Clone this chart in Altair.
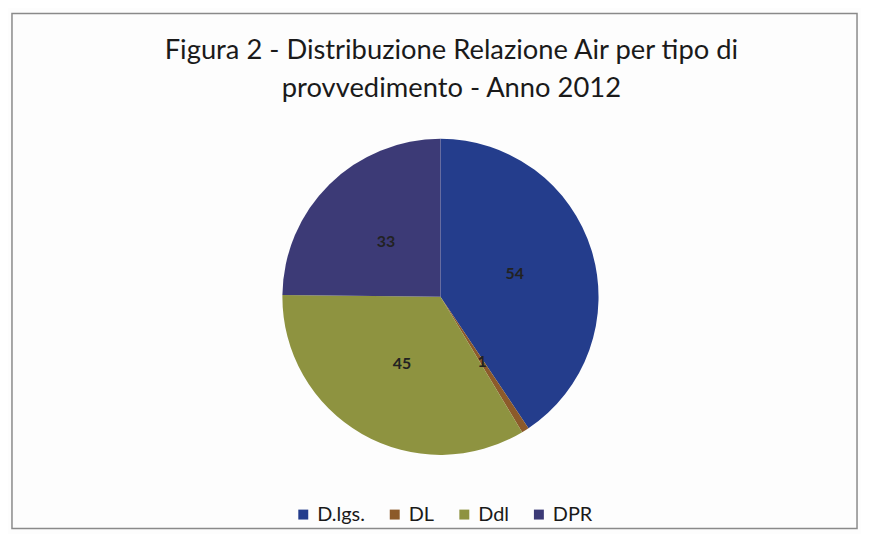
import altair as alt
import pandas as pd

categories = ["D.lgs.", "DL", "Ddl", "DPR"]
values = [54, 1, 45, 33]
colors = ["#243d8c", "#8c5a2a", "#8e9340", "#3c3a76"]
title_lines = ["Figura 2 - Distribuzione Relazione Air per tipo di", "provvedimento - Anno 2012"]

df = pd.DataFrame({"tipo": categories, "n": values, "ord": list(range(len(categories)))})

W, H = 850, 518
CX, CY = 431, 285
R = 159

color_scale = alt.Scale(domain=categories, range=colors)

base = alt.Chart(df).encode(
    theta=alt.Theta("n:Q", stack=True),
    order=alt.Order("ord:Q"),
)

pie = base.mark_arc(stroke=None).encode(
    x=alt.value(CX), y=alt.value(CY),
    radius=alt.value(R),
    color=alt.Color("tipo:N", scale=color_scale, sort=categories,
                    legend=alt.Legend(title=None, orient="none", legendX=283, legendY=H - 24,
                                      direction="horizontal", symbolType="square", symbolSize=100,
                                      labelFontSize=20, labelFont="Lato", labelColor="#1a1a1a",
                                      columnPadding=20, symbolStrokeWidth=0)),
)

labels = base.mark_text(font="Lato", fontSize=16, fontWeight="bold", color="#222222").encode(
    x=alt.value(CX), y=alt.value(CY),
    radius=alt.value(78),
    text=alt.Text("n:Q"),
)

title_layers = [
    alt.Chart(pd.DataFrame({"t": [line]})).mark_text(
        font="Lato", fontSize=27.5, color="#1a1a1a", baseline="middle"
    ).encode(x=alt.value(W / 2 + 17), y=alt.value(ypos), text="t:N")
    for line, ypos in zip(title_lines, [38, 76])
]

chart = alt.layer(pie, labels, *title_layers).properties(
    width=W, height=H, padding=4, background="#fdfdfd",
).configure_view(stroke="#8a8a8a", strokeWidth=1.5)

chart.save("out.html", embed_options={"renderer": "svg", "actions": False})
